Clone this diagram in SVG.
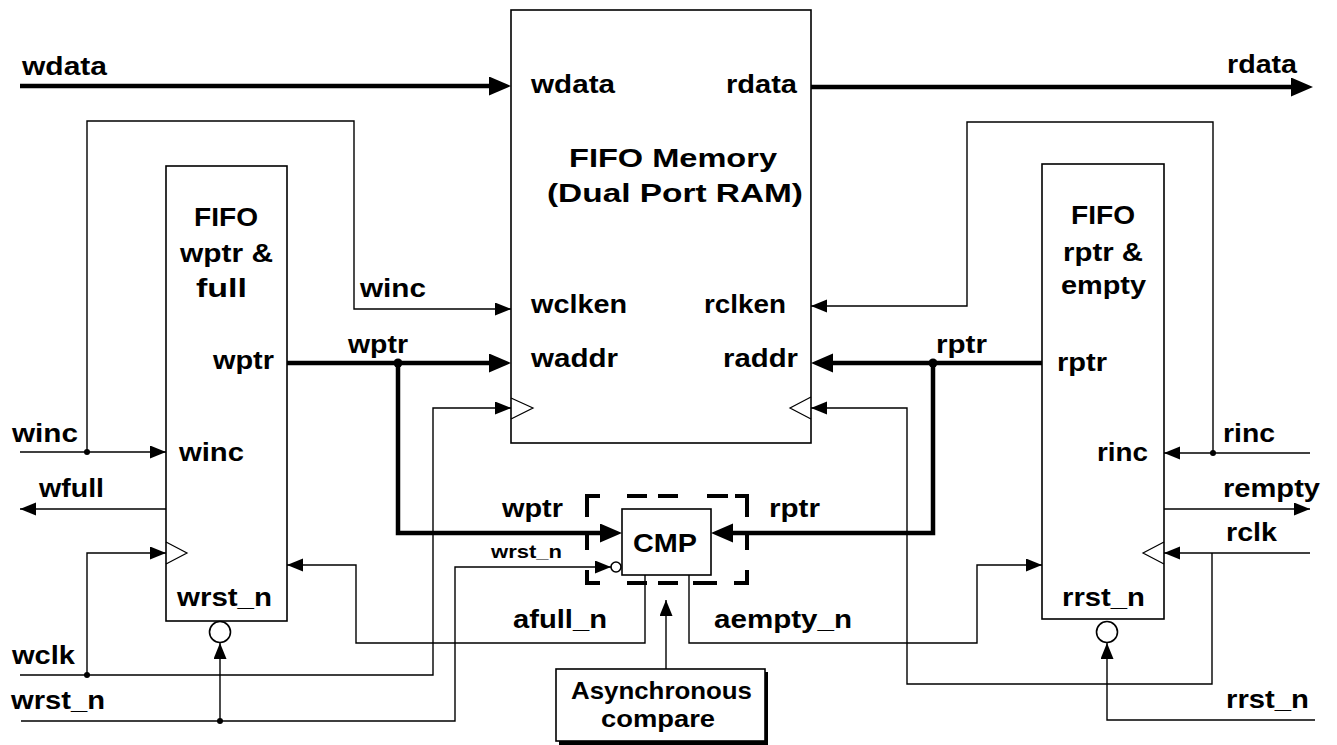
<svg xmlns="http://www.w3.org/2000/svg" width="1337" height="745" viewBox="0 0 1337 745">
<style>
.t{font-family:"Liberation Sans",Arial,sans-serif;font-weight:bold;font-size:26px;fill:#000}
.s{font-size:18px}
.m{font-size:24px}
.box{fill:#fff;stroke:#000;stroke-width:1.6}
.thin{fill:none;stroke:#000;stroke-width:1.4}
.bus{fill:none;stroke:#000;stroke-width:4.5}
.ck{fill:none;stroke:#000;stroke-width:1.2}
.dash{fill:none;stroke:#000;stroke-width:4}
.dot{fill:#000}
</style>
<defs>
<marker id="a" markerUnits="userSpaceOnUse" markerWidth="17" markerHeight="14" refX="16" refY="6.5" orient="auto"><path d="M0,0 L16,6.5 L0,13 z" fill="#000"/></marker>
<marker id="A" markerUnits="userSpaceOnUse" markerWidth="23" markerHeight="20" refX="12" refY="9.5" orient="auto"><path d="M0,0 L22,9.5 L0,19 z" fill="#000"/></marker>
</defs>
<rect width="1337" height="745" fill="#fff"/>

<g id="memory">
<rect class="box" x="511" y="10" width="300" height="433"/>
<polyline class="ck" points="511,398 533,408 511,419"/>
<polyline class="ck" points="811,397 790,408 811,419"/>
<text class="t" x="531" y="93" textLength="84" lengthAdjust="spacingAndGlyphs">wdata</text>
<text class="t" x="726" y="93" textLength="71" lengthAdjust="spacingAndGlyphs">rdata</text>
<text class="t" x="569" y="167" textLength="208" lengthAdjust="spacingAndGlyphs">FIFO Memory</text>
<text class="t" x="547" y="202" textLength="256" lengthAdjust="spacingAndGlyphs">(Dual Port RAM)</text>
<text class="t" x="531" y="313" textLength="96" lengthAdjust="spacingAndGlyphs">wclken</text>
<text class="t" x="704" y="313" textLength="82" lengthAdjust="spacingAndGlyphs">rclken</text>
<text class="t" x="531" y="367" textLength="87" lengthAdjust="spacingAndGlyphs">waddr</text>
<text class="t" x="723" y="367" textLength="75" lengthAdjust="spacingAndGlyphs">raddr</text>
</g>

<g id="wptr_full">
<rect class="box" x="166" y="166" width="121" height="455"/>
<polyline class="ck" points="166,542 187,553 166,564"/>
<circle class="box" cx="220" cy="632" r="10.5" stroke-width="1.3"/>
<text class="t" x="194" y="226" textLength="64" lengthAdjust="spacingAndGlyphs">FIFO</text>
<text class="t" x="180" y="262" textLength="93" lengthAdjust="spacingAndGlyphs">wptr &amp;</text>
<text class="t" x="196" y="297" textLength="51" lengthAdjust="spacingAndGlyphs">full</text>
<text class="t" x="213" y="369" textLength="61" lengthAdjust="spacingAndGlyphs">wptr</text>
<text class="t" x="179" y="461" textLength="65" lengthAdjust="spacingAndGlyphs">winc</text>
<text class="t" x="177" y="606" textLength="95" lengthAdjust="spacingAndGlyphs">wrst_n</text>
</g>

<g id="rptr_empty">
<rect class="box" x="1042" y="164" width="122" height="455"/>
<polyline class="ck" points="1164,542 1143,553 1164,564"/>
<circle class="box" cx="1107" cy="632" r="10.5" stroke-width="1.3"/>
<text class="t" x="1071" y="224" textLength="64" lengthAdjust="spacingAndGlyphs">FIFO</text>
<text class="t" x="1063" y="261" textLength="80" lengthAdjust="spacingAndGlyphs">rptr &amp;</text>
<text class="t" x="1061" y="294" textLength="85" lengthAdjust="spacingAndGlyphs">empty</text>
<text class="t" x="1057" y="371" textLength="50" lengthAdjust="spacingAndGlyphs">rptr</text>
<text class="t" x="1097" y="461" textLength="51" lengthAdjust="spacingAndGlyphs">rinc</text>
<text class="t" x="1062" y="606" textLength="83" lengthAdjust="spacingAndGlyphs">rrst_n</text>
</g>

<g id="cmp">
<path class="dash" d="M600,496 H587 V517 M627,496 H647 M658,496 H678 M707,496 H728 M735,496 H747 V517 M587,533 V550 M747,533 V550 M587,570 V583 H600 M747,570 V583 H734 M627,583 H647 M658,583 H678 M693,583 H717"/>
<rect class="box" x="622" y="509" width="89" height="66" stroke-width="1.4"/>
<circle class="box" cx="616" cy="567" r="5" stroke-width="1.2"/>
<text class="t" x="633" y="552" textLength="64" lengthAdjust="spacingAndGlyphs">CMP</text>
</g>

<g id="async_compare">
<rect x="559" y="672" width="209" height="73" fill="#000"/>
<rect class="box" x="556" y="669" width="209" height="72" stroke-width="1.4"/>
<text class="t m" x="571" y="699" textLength="181" lengthAdjust="spacingAndGlyphs">Asynchronous</text>
<text class="t m" x="601" y="727" textLength="114" lengthAdjust="spacingAndGlyphs">compare</text>
</g>

<g id="connectors">
<path class="bus" d="M20,86 H501" marker-end="url(#A)"/>
<path class="bus" d="M811,87 H1303" marker-end="url(#A)"/>
<path class="bus" d="M287,363 H501" marker-end="url(#A)"/>
<path class="bus" d="M398,363 V533 H612" marker-end="url(#A)"/>
<path class="bus" d="M1042,363 H821" marker-end="url(#A)"/>
<path class="bus" d="M933,363 V533 H721" marker-end="url(#A)"/>
<path class="thin" d="M20,452 H166" marker-end="url(#a)"/>
<path class="thin" d="M87,452 V121 H354 V309 H511" marker-end="url(#a)"/>
<path class="thin" d="M166,509 H20" marker-end="url(#a)"/>
<path class="thin" d="M20,675 H433 V408 H511" marker-end="url(#a)"/>
<path class="thin" d="M87,675 V553 H166" marker-end="url(#a)"/>
<path class="thin" d="M21,721 H455 V567 H611" marker-end="url(#a)"/>
<path class="thin" d="M220,721 V643" marker-end="url(#a)"/>
<path class="thin" d="M645,575 V643 H356 V565 H287" marker-end="url(#a)"/>
<path class="thin" d="M689,575 V643 H977 V565 H1042" marker-end="url(#a)"/>
<path class="thin" d="M666,669 V600" marker-end="url(#a)"/>
<path class="thin" d="M1310,453 H1164" marker-end="url(#a)"/>
<path class="thin" d="M1213,453 V122 H967 V306 H811" marker-end="url(#a)"/>
<path class="thin" d="M1164,509 H1310" marker-end="url(#a)"/>
<path class="thin" d="M1310,553 H1164" marker-end="url(#a)"/>
<path class="thin" d="M1212,553 V684 H907 V408 H811" marker-end="url(#a)"/>
<path class="thin" d="M1315,720 H1107 V643" marker-end="url(#a)"/>
<circle class="dot" cx="87" cy="452" r="3"/>
<circle class="dot" cx="87" cy="675" r="3"/>
<circle class="dot" cx="220" cy="721" r="3"/>
<circle class="dot" cx="1213" cy="453" r="3"/>
<circle class="dot" cx="398" cy="363" r="4.5"/>
<circle class="dot" cx="933" cy="363" r="4.5"/>
<text class="t" x="22" y="75" textLength="85" lengthAdjust="spacingAndGlyphs">wdata</text>
<text class="t" x="1227" y="73" textLength="70" lengthAdjust="spacingAndGlyphs">rdata</text>
<text class="t" x="360" y="297" textLength="66" lengthAdjust="spacingAndGlyphs">winc</text>
<text class="t" x="348" y="353" textLength="60" lengthAdjust="spacingAndGlyphs">wptr</text>
<text class="t" x="936" y="353" textLength="51" lengthAdjust="spacingAndGlyphs">rptr</text>
<text class="t" x="12" y="442" textLength="66" lengthAdjust="spacingAndGlyphs">winc</text>
<text class="t" x="39" y="497" textLength="65" lengthAdjust="spacingAndGlyphs">wfull</text>
<text class="t" x="12" y="664" textLength="63" lengthAdjust="spacingAndGlyphs">wclk</text>
<text class="t" x="11" y="709" textLength="94" lengthAdjust="spacingAndGlyphs">wrst_n</text>
<text class="t" x="502" y="517" textLength="61" lengthAdjust="spacingAndGlyphs">wptr</text>
<text class="t" x="769" y="517" textLength="51" lengthAdjust="spacingAndGlyphs">rptr</text>
<text class="t s" x="491" y="558" textLength="71" lengthAdjust="spacingAndGlyphs">wrst_n</text>
<text class="t" x="513" y="628" textLength="94" lengthAdjust="spacingAndGlyphs">afull_n</text>
<text class="t" x="714" y="628" textLength="138" lengthAdjust="spacingAndGlyphs">aempty_n</text>
<text class="t" x="1223" y="442" textLength="52" lengthAdjust="spacingAndGlyphs">rinc</text>
<text class="t" x="1223" y="497" textLength="97" lengthAdjust="spacingAndGlyphs">rempty</text>
<text class="t" x="1226" y="541" textLength="51" lengthAdjust="spacingAndGlyphs">rclk</text>
<text class="t" x="1226" y="708" textLength="83" lengthAdjust="spacingAndGlyphs">rrst_n</text>
</g>
</svg>
